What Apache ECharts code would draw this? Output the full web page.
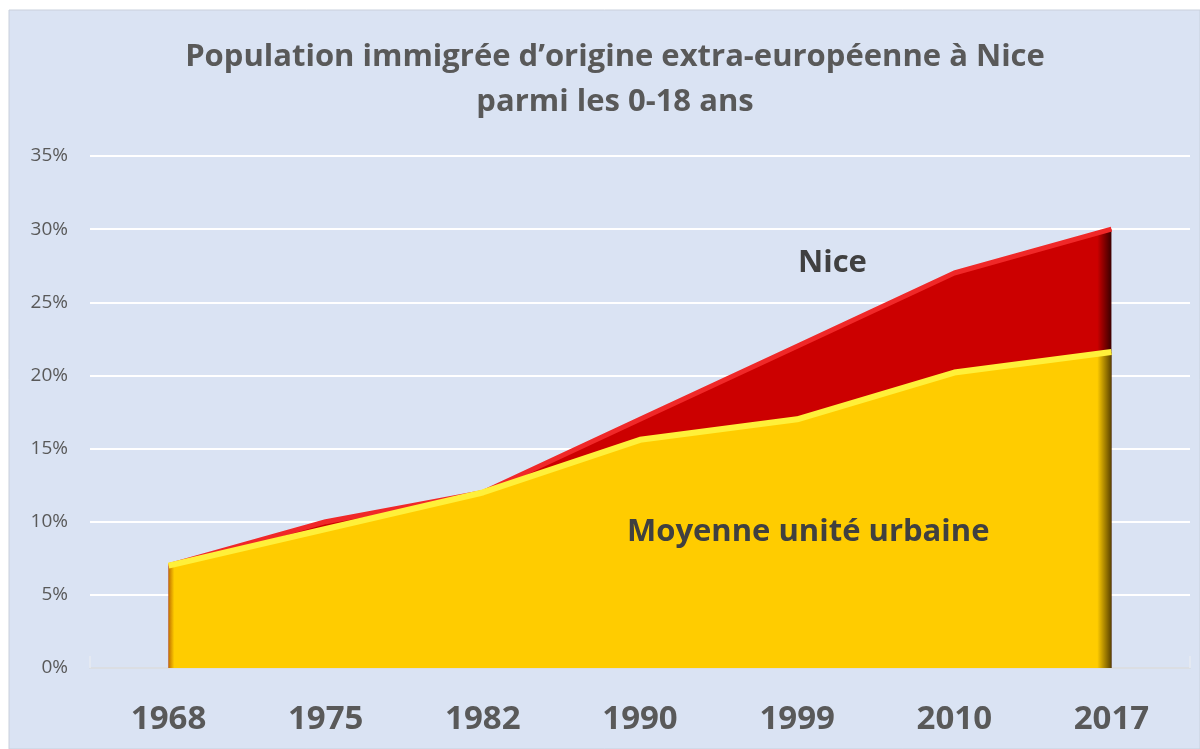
<!DOCTYPE html>
<html><head><meta charset="utf-8">
<script src="https://cdn.jsdelivr.net/npm/echarts@6/dist/echarts.min.js"></script>
<style>html,body{margin:0;padding:0;background:#fff;}#c{width:1200px;height:749px;}</style>
</head><body><div id="c"></div>
<script>
const categories = ['1968','1975','1982','1990','1999','2010','2017'];
const niceValues = [7, 10, 12, 17, 22, 27, 30];
const moyenneValues = [7, 9.5, 12, 15.6, 17, 20.2, 21.6];
const yTicks = [0, 5, 10, 15, 20, 25, 30, 35];
const titleText = 'Population immigrée d’origine extra-européenne à Nice\nparmi les 0-18 ans';

const chart = echarts.init(document.getElementById('c'));
const font = 'Open Sans';
function hGrad(edgeL, main, edgeR){
  return new echarts.graphic.LinearGradient(0,0,1,0,[
    {offset:0,color:edgeL},{offset:0.006,color:main},{offset:0.985,color:main},{offset:1,color:edgeR}]);
}
chart.setOption({
  backgroundColor:'#ffffff',
  graphic:[{type:'rect',z:-10,shape:{x:9,y:10,width:1191,height:739},style:{fill:'#dae3f3',stroke:'#c9d0dc',lineWidth:1}},
    {type:'text',x:615,y:35,z:100,style:{text:titleText,font:'bold 31px "Open Sans"',fill:'#595959',textAlign:'center',lineHeight:45}},
    {type:'text',left:798,top:248,z:100,style:{text:'Nice',font:'bold 31px "Open Sans"',fill:'#404040'}},
    {type:'text',left:627,top:517,z:100,style:{text:'Moyenne unité urbaine',font:'bold 31px "Open Sans"',fill:'#404040'}}
  ],
  grid:{left:90,right:10,top:156,bottom:81},
  xAxis:{type:'category',data:categories,boundaryGap:true,
    axisLine:{lineStyle:{color:'#d0d4da',width:1.5}},
    axisTick:{show:true,inside:true,length:12,lineStyle:{color:'#e8ecf2',width:1.5}},
    axisLabel:{fontFamily:font,fontWeight:'bold',fontSize:33,color:'#595959',margin:35},
    splitLine:{show:false}},
  yAxis:{type:'value',min:yTicks[0],max:yTicks[yTicks.length-1],interval:5,
    axisLine:{show:false},axisTick:{show:false},
    axisLabel:{formatter:'{value}%',fontFamily:font,fontSize:19,color:'#595959',margin:22},
    splitLine:{lineStyle:{color:'#ffffff',width:2}}},
  series:[
    {name:'Nice',type:'line',data:niceValues,symbol:'none',
      lineStyle:{color:'#f02828',width:5},
      areaStyle:{color:hGrad('#b01010','#cc0000','#3a0000'),opacity:1}},
    {name:'Moyenne unité urbaine',type:'line',data:moyenneValues,symbol:'none',
      lineStyle:{color:'#fff03a',width:6},
      areaStyle:{color:hGrad('#c07000','#ffcc00','#5a4200'),opacity:1}}
  ]
});
</script></body></html>
